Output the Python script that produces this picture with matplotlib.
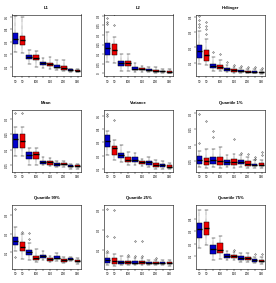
import matplotlib
matplotlib.use("Agg")
import matplotlib.pyplot as plt

plt.rcParams['font.family'] = ['Liberation Sans', 'DejaVu Sans']

titles = ["L1", "L2", "Hellinger", "Mean", "Variance", "Quantile 1%",
          "Quantile 99%", "Quantile 25%", "Quantile 75%"]
sample_sizes = [50, 50, 100, 100, 150, 150, 200, 200, 300, 300]
shown_labels = [True, True, False, True, False, True, False, True, False, True]
colors = ["#0000CD", "#EE0000"] * 5

# each row: [whisker low, q1, median, q3, whisker high]
L1_stats = [[0.216, 0.282, 0.324, 0.368, 0.505], [0.211, 0.271, 0.311, 0.347, 0.500],
            [0.124, 0.158, 0.179, 0.195, 0.232], [0.100, 0.150, 0.171, 0.195, 0.224],
            [0.092, 0.111, 0.126, 0.137, 0.171], [0.084, 0.105, 0.118, 0.132, 0.174],
            [0.074, 0.087, 0.100, 0.113, 0.153], [0.063, 0.074, 0.092, 0.108, 0.150],
            [0.055, 0.063, 0.071, 0.079, 0.084], [0.053, 0.061, 0.068, 0.076, 0.084]]
L1_out = [[], [], [], [], [], [], [], [], [], []]

L2_stats = [[0.057, 0.095, 0.134, 0.160, 0.217], [0.055, 0.095, 0.121, 0.155, 0.190],
            [0.014, 0.038, 0.052, 0.066, 0.103], [0.014, 0.036, 0.053, 0.066, 0.103],
            [0.009, 0.017, 0.024, 0.031, 0.052], [0.009, 0.016, 0.022, 0.028, 0.040],
            [0.005, 0.010, 0.016, 0.021, 0.034], [0.003, 0.009, 0.014, 0.019, 0.031],
            [0.002, 0.005, 0.010, 0.014, 0.022], [0.000, 0.003, 0.009, 0.014, 0.022]]
L2_out = [[0.290, 0.269, 0.255], [0.307, 0.252], [], [], [], [], [], [], [], []]

HEL_stats = [[0.093, 0.133, 0.180, 0.215, 0.307], [0.089, 0.115, 0.148, 0.185, 0.257],
             [0.050, 0.067, 0.080, 0.093, 0.137], [0.046, 0.059, 0.072, 0.087, 0.120],
             [0.039, 0.048, 0.057, 0.067, 0.083], [0.037, 0.043, 0.052, 0.059, 0.072],
             [0.035, 0.041, 0.048, 0.052, 0.065], [0.033, 0.039, 0.043, 0.050, 0.061],
             [0.033, 0.037, 0.041, 0.046, 0.057], [0.030, 0.035, 0.039, 0.043, 0.054]]
HEL_out = [[0.402, 0.380, 0.350, 0.333], [0.365, 0.343, 0.322, 0.289], [0.170], [0.159],
           [0.104], [0.087], [0.078], [0.076], [0.070], [0.067]]

MEAN_stats = [[0.079, 0.107, 0.134, 0.150, 0.173], [0.079, 0.107, 0.129, 0.152, 0.173],
              [0.052, 0.070, 0.084, 0.093, 0.105], [0.052, 0.071, 0.086, 0.093, 0.105],
              [0.050, 0.056, 0.061, 0.065, 0.078], [0.049, 0.053, 0.060, 0.065, 0.073],
              [0.044, 0.049, 0.054, 0.057, 0.065], [0.044, 0.050, 0.054, 0.057, 0.065],
              [0.039, 0.044, 0.047, 0.050, 0.056], [0.039, 0.044, 0.047, 0.050, 0.056]]
MEAN_out = [[0.217], [0.217], [], [], [], [], [], [], [], []]

VAR_stats = [[0.205, 0.263, 0.313, 0.355, 0.388], [0.170, 0.205, 0.255, 0.270, 0.320],
             [0.155, 0.183, 0.205, 0.225, 0.280], [0.130, 0.155, 0.170, 0.188, 0.230],
             [0.130, 0.155, 0.170, 0.188, 0.220], [0.125, 0.143, 0.155, 0.163, 0.180],
             [0.120, 0.135, 0.153, 0.165, 0.190], [0.105, 0.120, 0.135, 0.150, 0.170],
             [0.105, 0.120, 0.130, 0.143, 0.165], [0.100, 0.113, 0.120, 0.130, 0.145]]
VAR_out = [[0.513, 0.493], [0.468], [], [], [], [], [], [], [], []]

Q01_stats = [[0.032, 0.041, 0.056, 0.067, 0.084], [0.029, 0.0375, 0.051, 0.062, 0.090],
             [0.034, 0.043, 0.056, 0.064, 0.090], [0.031, 0.0375, 0.050, 0.065, 0.095],
             [0.032, 0.0375, 0.048, 0.054, 0.071], [0.031, 0.0375, 0.048, 0.058, 0.074],
             [0.034, 0.041, 0.048, 0.053, 0.069], [0.030, 0.036, 0.043, 0.050, 0.064],
             [0.031, 0.035, 0.040, 0.042, 0.053], [0.031, 0.035, 0.040, 0.045, 0.056]]
Q01_out = [[0.199, 0.108], [0.175], [0.144, 0.127], [], [], [0.119], [0.077], [0.074],
           [0.064, 0.058], [0.079, 0.069]]

Q99_stats = [[0.109, 0.139, 0.161, 0.182, 0.235], [0.065, 0.107, 0.130, 0.156, 0.196],
             [0.061, 0.086, 0.104, 0.114, 0.153], [0.051, 0.061, 0.070, 0.082, 0.121],
             [0.058, 0.070, 0.082, 0.089, 0.107], [0.047, 0.056, 0.065, 0.072, 0.082],
             [0.054, 0.063, 0.072, 0.081, 0.095], [0.044, 0.051, 0.058, 0.065, 0.074],
             [0.053, 0.060, 0.063, 0.068, 0.077], [0.039, 0.049, 0.054, 0.058, 0.068]]
Q99_out = [[0.332, 0.074], [0.209], [0.205, 0.170], [], [], [], [], [], [], []]

Q25_stats = [[0.028, 0.038, 0.051, 0.062, 0.087], [0.025, 0.034, 0.049, 0.062, 0.084],
             [0.026, 0.034, 0.043, 0.049, 0.070], [0.028, 0.034, 0.041, 0.046, 0.067],
             [0.028, 0.033, 0.039, 0.046, 0.062], [0.028, 0.034, 0.041, 0.046, 0.062],
             [0.026, 0.033, 0.038, 0.043, 0.054], [0.026, 0.033, 0.038, 0.043, 0.054],
             [0.026, 0.031, 0.036, 0.041, 0.051], [0.025, 0.031, 0.038, 0.043, 0.054]]
Q25_out = [[0.303, 0.169, 0.095], [0.300, 0.164], [], [0.075], [0.144, 0.074],
           [0.144, 0.074], [], [0.062], [], []]

Q75_stats = [[0.168, 0.249, 0.316, 0.365, 0.478], [0.186, 0.267, 0.324, 0.375, 0.478],
             [0.065, 0.114, 0.154, 0.186, 0.249], [0.073, 0.122, 0.149, 0.203, 0.262],
             [0.065, 0.084, 0.097, 0.111, 0.138], [0.065, 0.084, 0.095, 0.108, 0.135],
             [0.051, 0.068, 0.081, 0.095, 0.127], [0.046, 0.065, 0.078, 0.089, 0.127],
             [0.038, 0.051, 0.062, 0.070, 0.089], [0.033, 0.046, 0.057, 0.068, 0.089]]
Q75_out = [[], [], [], [], [], [0.149], [], [], [0.111], [0.111]]

all_stats = [L1_stats, L2_stats, HEL_stats, MEAN_stats, VAR_stats, Q01_stats,
             Q99_stats, Q25_stats, Q75_stats]
all_out = [L1_out, L2_out, HEL_out, MEAN_out, VAR_out, Q01_out, Q99_out, Q25_out, Q75_out]

y_ticks = [[0.1, 0.2, 0.3, 0.4, 0.5], [0.0, 0.05, 0.10, 0.15, 0.20, 0.25, 0.30],
           [0.1, 0.2, 0.3, 0.4], [0.05, 0.10, 0.15, 0.20], [0.1, 0.2, 0.3, 0.4, 0.5],
           [0.05, 0.10, 0.15, 0.20], [0.1, 0.2, 0.3], [0.1, 0.2, 0.3], [0.1, 0.2, 0.3, 0.4]]
y_lims = [(0.021, 0.516), (-0.017, 0.307), (0.011, 0.415), (0.029, 0.229), (0.08, 0.545),
          (0.017, 0.2125), (0.012, 0.353), (0.008, 0.323), (-0.008, 0.516)]

W, H = 276, 283
fig = plt.figure(figsize=(W / 100, H / 100), dpi=100)

tops = [14.5, 109.5, 205.0]
heights = [62.0, 62.5, 64.0]
for i in range(9):
    r, c = divmod(i, 3)
    left = 12 + 92 * c
    width = 69
    top = tops[r]
    h = heights[r]
    ax = fig.add_axes([left / W, 1 - (top + h) / H, width / W, h / H])
    stats = []
    for j, s in enumerate(all_stats[i]):
        stats.append(dict(whislo=s[0], q1=s[1], med=s[2], q3=s[3], whishi=s[4],
                          fliers=all_out[i][j]))
    pos = list(range(1, 11))
    bp = ax.bxp(stats, positions=pos, widths=0.8, patch_artist=True,
                showfliers=True,
                boxprops=dict(linewidth=0.35, edgecolor='black'),
                medianprops=dict(color='black', linewidth=1.0),
                whiskerprops=dict(color='black', linewidth=0.35, linestyle=(0, (1.2, 1.2))),
                capprops=dict(color='black', linewidth=0.35),
                flierprops=dict(marker='o', markersize=1.0, markerfacecolor='none',
                                markeredgecolor='black', markeredgewidth=0.3))
    for patch, col in zip(bp['boxes'], colors):
        patch.set_facecolor(col)
    for cap in bp['caps']:
        x = cap.get_xdata()
        m = (x[0] + x[1]) / 2
        cap.set_xdata([m - 0.2, m + 0.2])
    ax.set_xlim(0.5, 10.5)
    ax.set_ylim(*y_lims[i])
    ax.set_xticks(pos)
    ax.set_xticklabels([str(v) if sh else '' for v, sh in zip(sample_sizes, shown_labels)],
                       fontsize=2.2)
    ax.set_yticks(y_ticks[i])
    ax.set_yticklabels([f"{v:g}" for v in y_ticks[i]], fontsize=2.2, rotation=90,
                       va='center')
    ax.tick_params(axis='both', length=1.2, width=0.3, pad=1.0, colors='black')
    for sp in ax.spines.values():
        sp.set_linewidth(0.4)
    ax.set_title(titles[i], fontsize=3.0, fontweight='bold', pad=4)

fig.savefig("out.png", dpi=100)
